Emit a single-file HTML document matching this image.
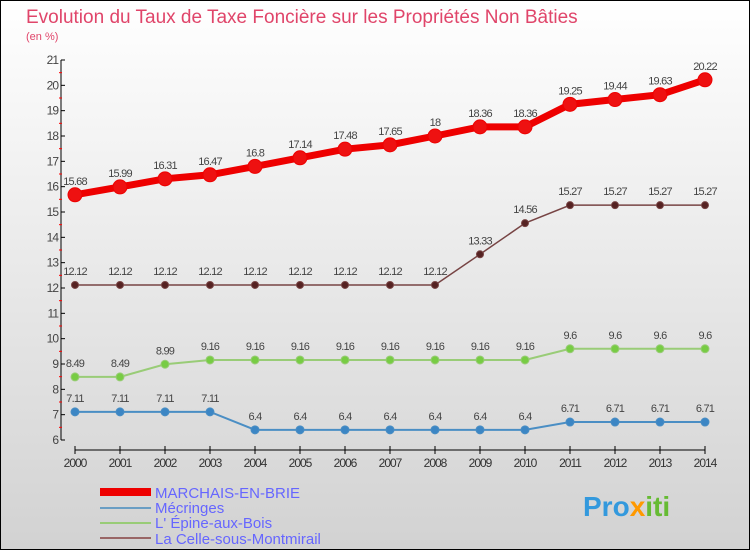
<!DOCTYPE html>
<html><head><meta charset="utf-8"><style>
body{margin:0}
svg{display:block;font-family:"Liberation Sans",sans-serif}
</style></head><body>
<svg id="c" width="750" height="550">
<defs><linearGradient id="bg" x1="0" y1="0" x2="0" y2="1"><stop offset="0" stop-color="#ffffff"/><stop offset="1" stop-color="#d2d2d2"/></linearGradient></defs>
<rect x="0.5" y="0.5" width="749" height="549" fill="url(#bg)" stroke="#000"/>
<text x="26" y="23" font-size="19" fill="#e0456a">Evolution du Taux de Taxe Foncière sur les Propriétés Non Bâties</text>
<text x="26" y="40" font-size="11" fill="#e0456a">(en %)</text>
<g id="axes"></g><g id="series"></g>
<g>
<line x1="100" y1="492" x2="151" y2="492" stroke="#ee0000" stroke-width="8"/>
<text x="155" y="498" font-size="15" fill="#6666ff">MARCHAIS-EN-BRIE</text>
<line x1="100" y1="508" x2="151" y2="508" stroke="#6a9ec4" stroke-width="2"/>
<text x="155" y="513" font-size="15" fill="#6666ff">Mécringes</text>
<line x1="100" y1="523" x2="151" y2="523" stroke="#99cc77" stroke-width="2"/>
<text x="155" y="528" font-size="15" fill="#6666ff">L' Épine-aux-Bois</text>
<line x1="100" y1="538" x2="151" y2="538" stroke="#996666" stroke-width="2"/>
<text x="155" y="544" font-size="15" fill="#6666ff">La Celle-sous-Montmirail</text>
</g>
<text x="583" y="516" font-size="28" font-weight="bold" fill="#3399dd">Pro<tspan fill="#ff9900">x</tspan><tspan fill="#66bb33">iti</tspan></text>
</svg>
<script>
const years=[2000,2001,2002,2003,2004,2005,2006,2007,2008,2009,2010,2011,2012,2013,2014];
const marchais=[15.68,15.99,16.31,16.47,16.8,17.14,17.48,17.65,18,18.36,18.36,19.25,19.44,19.63,20.22];
const celle=[12.12,12.12,12.12,12.12,12.12,12.12,12.12,12.12,12.12,13.33,14.56,15.27,15.27,15.27,15.27];
const epine=[8.49,8.49,8.99,9.16,9.16,9.16,9.16,9.16,9.16,9.16,9.16,9.6,9.6,9.6,9.6];
const mecringes=[7.11,7.11,7.11,7.11,6.4,6.4,6.4,6.4,6.4,6.4,6.4,6.71,6.71,6.71,6.71];
const yTicks=[6,7,8,9,10,11,12,13,14,15,16,17,18,19,20,21];
const NS="http://www.w3.org/2000/svg";
const X=i=>75+i*45, Y=v=>440-(v-6)*(380/15);
function mk(t,a,p){const e=document.createElementNS(NS,t);for(const k in a)e.setAttribute(k,a[k]);p.appendChild(e);return e;}
const ax=document.getElementById('axes');
let l=mk('line',{x1:61,y1:Y(21),x2:61,y2:Y(6),stroke:'#000'},ax);


yTicks.forEach(v=>{
 mk('line',{x1:61,y1:Y(v),x2:65,y2:Y(v),stroke:'#000'},ax);
 if(v<21) mk('line',{x1:59,y1:Y(v+0.5),x2:62,y2:Y(v+0.5),stroke:'#f00'},ax);
 const t=mk('text',{x:58,y:Y(v)+4,'text-anchor':'end','font-size':12,fill:'#444','letter-spacing':'-1'},ax);
 t.textContent=v;
 
 
});
l=mk('line',{x1:X(0),y1:450,x2:X(14),y2:450,stroke:'#000'},ax);


years.forEach((y,i)=>{
 mk('line',{x1:X(i),y1:446,x2:X(i),y2:454,stroke:'#000'},ax);
 const t=mk('text',{x:X(i),y:467,'text-anchor':'middle','font-size':12,fill:'#333','letter-spacing':'-1'},ax);
 t.textContent=y;
 
 
});
const sg=document.getElementById('series');
function series(name,vals,color,dot,w,r){
 const g=mk('g',{},sg);
 
 
 const p=mk('polyline',{points:vals.map((v,i)=>X(i)+','+Y(v)).join(' '),fill:'none',stroke:color,'stroke-width':w},g);
 
 
 vals.forEach((v,i)=>{
  const c=mk('circle',{cx:X(i),cy:Y(v),r:r,fill:dot,stroke:color,'stroke-width':1},g);
  
  
  const t=mk('text',{x:X(i),y:Y(v)-10,'text-anchor':'middle','font-size':11,fill:'#444','letter-spacing':'-0.8'},g);
  t.textContent=v;
  
  
 });
}
series('mecringes',mecringes,'#4a8ec4','#3c86c4',2,4);
series('epine',epine,'#99cc77','#77cc44',2,4);
series('celle',celle,'#774444','#552222',1.5,3.5);
series('marchais',marchais,'#ee0000','#ee1111',7,7);
</script>
</body></html>
